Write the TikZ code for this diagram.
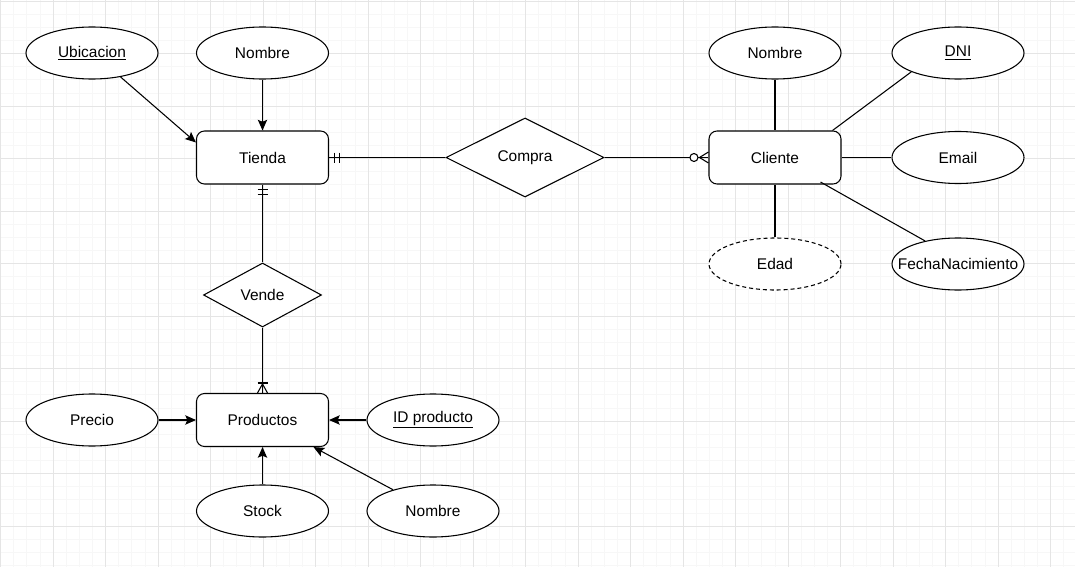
\documentclass[tikz,border=0pt]{standalone}
\usepackage{fontspec}
\setmainfont{Liberation Sans}
\usetikzlibrary{shapes.geometric,arrows.meta,calc}
\begin{document}
\begin{tikzpicture}[x=0.75pt,y=-0.75pt,
  font=\fontsize{11.6}{13}\selectfont,
  line width=0.8pt,
  entity/.style={draw, rounded corners=6pt, minimum width=99pt, minimum height=39.75pt, inner sep=0pt, fill=white},
  attr/.style={draw, ellipse, minimum width=99pt, minimum height=39pt, inner sep=0pt, fill=white, label={center:#1}},
  rel/.style={draw, diamond, inner sep=0pt, fill=white},
  arr/.style={-{Stealth[length=8pt,width=7pt,inset=1.5pt]}},
  gridminor/.style={line width=0.5pt, draw=black!3},
  gridmajor/.style={line width=0.6pt, draw=black!10}]

% canvas and background grid
\useasboundingbox (0,0) rectangle (1075,567);
\fill[white] (0,0) rectangle (1075,567);
\foreach \i in {0,...,82} \draw[gridminor] ({0.5+13.125*\i},0) -- ({0.5+13.125*\i},567);
\foreach \j in {0,...,43} \draw[gridminor] (0,{1+13.125*\j}) -- (1075,{1+13.125*\j});
\foreach \i in {0,...,20} \draw[gridmajor] ({0.5+52.5*\i},0) -- ({0.5+52.5*\i},567);
\foreach \j in {0,...,10} \draw[gridmajor] (0,{1+52.5*\j}) -- (1075,{1+52.5*\j});

% entities and relationships
\node[entity] (tienda) at (262.5,157.5) {Tienda};
\node[rel, minimum width=118.5pt, minimum height=59.25pt] (compra) at (525,157.5) {Compra};
\node[entity] (cli) at (775,157.5) {Cliente};
\node[rel, minimum width=88.5pt, minimum height=48pt] (vende) at (262.5,295) {Vende};
\node[entity] (prod) at (262.5,420) {Productos};

% attributes
\node[attr=\underline{Ubicacion}] (ubi) at (92,53) {};
\node[attr=Nombre] (tnom) at (262.5,53) {};
\node[attr=Nombre] (cnom) at (775,53) {};
\node[attr=\underline{DNI}] (dni) at (958,53) {};
\node[attr=Email] (email) at (958,157.5) {};
\node[attr=FechaNacimiento] (fnac) at (958,264) {};
\node[attr=Edad, dash pattern=on 3pt off 2.2pt] (edad) at (775,264) {};
\node[attr=Precio] (precio) at (92,420) {};
\node[attr=\underline{ID producto}] (idp) at (433,420) {};
\node[attr=Stock] (stock) at (262.5,511) {};
\node[attr=Nombre] (pnom) at (433,511) {};

% Tienda attributes
\draw[arr] (ubi.-40) -- ($(tienda.north west)+(0,12)$);
\draw[arr] (tnom) -- (tienda);

% relationships
\draw (tienda) -- (compra);
\draw (compra) -- (cli);
\draw (tienda) -- (vende);
\draw (vende) -- (prod);

% Cliente attributes
\draw (cnom) -- (cli);
\draw (dni.202) -- ($(cli.north east)+(-9,0)$);
\draw (email) -- (cli);
\draw (fnac.145) -- ($(cli.south east)+(-21,-2.5)$);
\draw (edad) -- (cli);

% Productos attributes
\draw[arr] (precio) -- (prod);
\draw[arr] (idp) -- (prod);
\draw[arr] (stock) -- (prod);
\draw[arr] (pnom.152) -- ($(prod.south)+(51,0)$);

% cardinality marks: one and only one at Tienda
\draw ($(tienda.east)+(5,-5)$) -- ($(tienda.east)+(5,5)$);
\draw ($(tienda.east)+(10,-5)$) -- ($(tienda.east)+(10,5)$);
\draw ($(tienda.south)+(-5,5)$) -- ($(tienda.south)+(5,5)$);
\draw ($(tienda.south)+(-5,10)$) -- ($(tienda.south)+(5,10)$);

% zero or many at Cliente
\draw ($(cli.west)+(-9,0)$) -- ($(cli.west)+(0,-5.5)$);
\draw ($(cli.west)+(-9,0)$) -- ($(cli.west)+(0,5.5)$);
\draw[fill=white] ($(cli.west)+(-14.5,0)$) circle (3pt);

% one or many at Productos
\draw ($(prod.north)+(0,-9)$) -- ($(prod.north)+(-5,0)$);
\draw ($(prod.north)+(0,-9)$) -- ($(prod.north)+(5,0)$);
\draw ($(prod.north)+(-5,-10)$) -- ($(prod.north)+(5,-10)$);
\end{tikzpicture}
\end{document}
